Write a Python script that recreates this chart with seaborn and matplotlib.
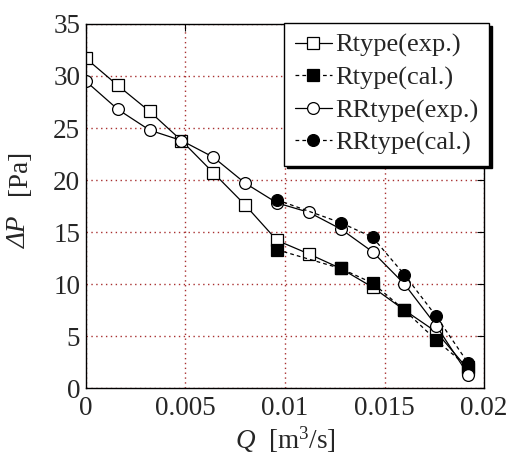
import matplotlib
matplotlib.use("Agg")
import matplotlib.pyplot as plt
import numpy as np
import seaborn as sns

# Flow rate [m3/s]
q_exp = [0.0, 0.0016, 0.0032, 0.0048, 0.0064, 0.0080, 0.0096,
         0.0112, 0.0128, 0.0144, 0.0160, 0.0176, 0.0192]
q_cal = [0.0096, 0.0128, 0.0144, 0.0160, 0.0176, 0.0192]

# Pressure drop [Pa]
r_exp = [31.7, 29.1, 26.6, 23.8, 20.7, 17.6, 14.2, 12.9, 11.5, 9.7, 7.5, 5.4, 1.8]
r_cal = [13.3, 11.5, 10.1, 7.5, 4.6, 2.0]
rr_exp = [29.5, 26.8, 24.8, 23.8, 22.2, 19.7, 17.8, 16.9, 15.3, 13.1, 10.0, 6.0, 1.3]
rr_cal = [18.1, 15.9, 14.5, 10.9, 6.9, 2.4]

sns.set_theme(style="white")
plt.rcParams.update({
    "font.family": ["Liberation Serif", "DejaVu Serif"],
    "font.size": 19,
    "mathtext.fontset": "custom",
    "mathtext.rm": "Liberation Serif",
    "mathtext.it": "Liberation Serif:italic",
    "axes.edgecolor": "black",
    "axes.linewidth": 1.0,
    "xtick.direction": "in",
    "ytick.direction": "in",
})

fig = plt.figure(figsize=(5.08, 4.61), dpi=100)
ax = fig.add_axes([0.169, 0.158, 0.784, 0.79])

ms = 8.5
series = [
    (q_exp, r_exp, "Rtype(exp.)", "s", "white", "-"),
    (q_cal, r_cal, "Rtype(cal.)", "s", "black", "--"),
    (q_exp, rr_exp, "RRtype(exp.)", "o", "white", "-"),
    (q_cal, rr_cal, "RRtype(cal.)", "o", "black", "--"),
]
for q, dp, label, mk, fc, ls in series:
    sns.lineplot(x=q, y=dp, ax=ax, label=label, color="black", linewidth=0.9,
                 linestyle=ls, marker=mk, markersize=ms, markerfacecolor=fc,
                 markeredgecolor="black", markeredgewidth=0.9)
for line in ax.get_lines():
    if line.get_linestyle() == "--":
        line.set_dashes([3, 2.5])

ax.set_xlim(0, 0.02)
ax.set_ylim(0, 35)
ax.set_xticks([0, 0.005, 0.01, 0.015, 0.02])
ax.set_xticklabels(["0", "0.005", "0.01", "0.015", "0.02"])
ax.set_yticks(range(0, 36, 5))
ax.tick_params(axis="both", which="both", top=True, right=True, length=5,
               width=0.8, color="black", labelsize=19.5, pad=4)
ax.tick_params(axis="x", pad=6)
ax.grid(True, color="#a83030", linestyle=(0, (1, 2.5)), linewidth=1.0)
ax.set_axisbelow(True)

ax.set_xlabel(r"$Q$  [m$^3$/s]", fontsize=19.5, labelpad=2)
ax.set_ylabel("")
# y label in two pieces so that the Greek capital can be italic
fig.text(0.038, 0.497, "ΔP", rotation=90, ha="center", va="center",
         fontsize=19.5, fontstyle="italic")
fig.text(0.038, 0.627, "[Pa]", rotation=90, ha="center", va="center",
         fontsize=19.5)

leg = ax.legend(loc="upper right", bbox_to_anchor=(1.013, 1.003), fontsize=19,
                frameon=True, fancybox=False, edgecolor="black",
                framealpha=1, shadow={"color": "black", "alpha": 1},
                handlelength=1.4, handletextpad=0.15, borderpad=0.4,
                labelspacing=0.33, borderaxespad=0)
leg.get_frame().set_linewidth(1.0)

fig.savefig("out.png", dpi=100)
